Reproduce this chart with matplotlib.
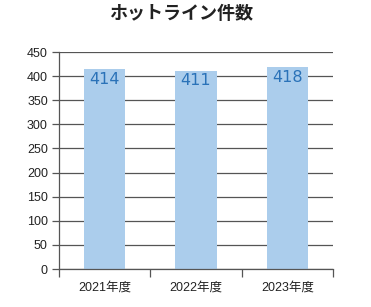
import matplotlib
matplotlib.use("Agg")
import matplotlib.pyplot as plt

plt.rcParams['font.family'] = ['Liberation Sans', 'Noto Sans CJK JP']

title = "ホットライン件数"
categories = ["2021年度", "2022年度", "2023年度"]
values = [414, 411, 418]
yticks = [0, 50, 100, 150, 200, 250, 300, 350, 400, 450]

fig = plt.figure(figsize=(3.71, 3.07), dpi=100)
ax = fig.add_axes([59/371, 38/307, 274/371, 217/307])

x = list(range(len(categories)))
ax.set_axisbelow(True)
ax.yaxis.grid(True, color='#555555', linewidth=0.9)
ax.bar(x, values, width=0.45, color='#abcdec', zorder=2)
for xi, v in zip(x, values):
    ax.text(xi, v - 5, str(v), ha='center', va='top', fontsize=11.5,
            family=['DejaVu Sans'], color='#2a72b8', zorder=3)

ax.set_xlim(-0.5, len(categories) - 0.5)
ax.set_ylim(0, 450)
ax.set_yticks(yticks)
ax.set_yticklabels([str(t) for t in yticks], fontsize=9, color='#222222')
ax.tick_params(axis='y', length=5, width=0.9, color='#555555', pad=3)

ax.set_xticks([i - 0.5 for i in range(len(categories) + 1)])
ax.set_xticklabels([])
ax.tick_params(axis='x', which='major', length=6, width=0.9, color='#555555')
ax.set_xticks(x, minor=True)
ax.set_xticklabels(categories, minor=True, fontsize=9, color='#222222')
ax.tick_params(axis='x', which='minor', length=0, pad=9)

for s in ['top', 'right']:
    ax.spines[s].set_visible(False)
for s in ['left', 'bottom']:
    ax.spines[s].set_color('#555555')
    ax.spines[s].set_linewidth(0.9)

fig.text(181.5/371, 1 - 13.5/307, title, ha='center', va='center', fontsize=13,
         family=['Noto Sans CJK JP'], fontweight='bold', color='#222222')

fig.savefig("out.png", dpi=100)
